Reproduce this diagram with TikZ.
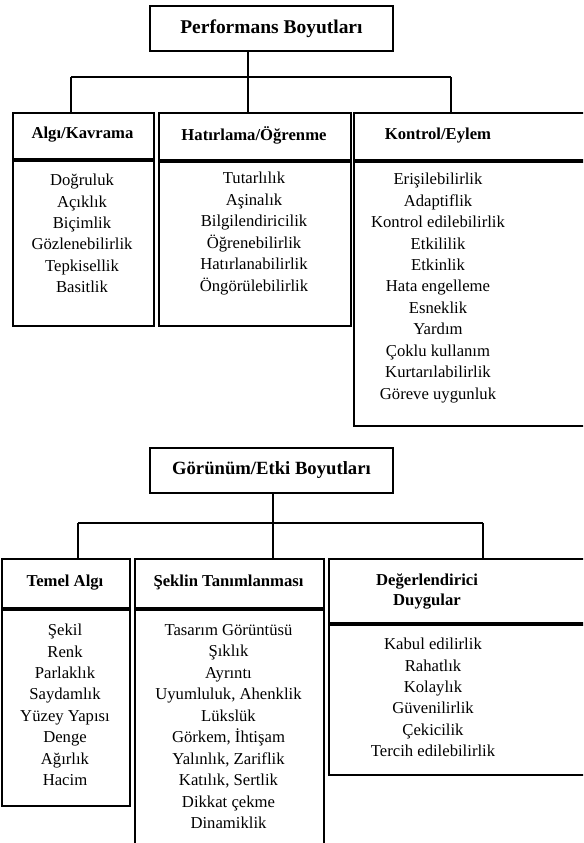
\documentclass[tikz,border=0pt]{standalone}
\usepackage{fontspec}
\setmainfont{Liberation Serif}
\usetikzlibrary{positioning}

\begin{document}
\begin{tikzpicture}[
    x=0.75pt, y=-0.75pt,
    box/.style={
      draw,
      line width=1.4pt,
      inner sep=0pt,
      anchor=north west
    },
    titlebox/.style={
      box,
      minimum width=182.25pt,
      minimum height=33.75pt,
      font=\fontsize{#1}{17}\selectfont\bfseries
    },
    head/.style={
      font=\fontsize{12.5}{15}\selectfont\bfseries,
      align=center
    },
    items/.style={
      font=\fontsize{12.5}{16.1}\selectfont,
      align=center
    },
    link/.style={
      line width=1.4pt
    }
  ]
  \clip (0,0) rectangle (583,843);

  % Performans boyutlari
  \node[titlebox=14.6] (perf) at (149,5) {Performans Boyutları};

  \node[box, minimum width=105.75pt, minimum height=34.5pt]  (algiHead) at (12,112)  {};
  \node[box, minimum width=105.75pt, minimum height=123.75pt] (algiBody) at (algiHead.south west) {};
  \node[box, minimum width=144pt, minimum height=35.25pt]    (hatHead)  at (158,112) {};
  \node[box, minimum width=144pt, minimum height=123pt]      (hatBody)  at (hatHead.south west) {};
  \node[box, minimum width=195pt, minimum height=35.25pt]    (konHead)  at (353,112) {};
  \node[box, minimum width=195pt, minimum height=198pt]      (konBody)  at (konHead.south west) {};

  \node[head] (algiName) at (82.5,135)  {Algı/Kavrama};
  \node[head] (hatName)  at (254,135.5) {Hatırlama/Öğrenme};
  \node[head] (konName)  at (438,135.5) {Kontrol/Eylem};

  \node[items] (algiList) at (82,233.5) {Doğruluk\\Açıklık\\Biçimlik\\Gözlenebilirlik\\Tepkisellik\\Basitlik};
  \node[items] (hatList)  at (254,233.5) {Tutarlılık\\Aşinalık\\Bilgilendiricilik\\Öğrenebilirlik\\Hatırlanabilirlik\\Öngörülebilirlik};
  \node[items] (konList)  at (438,288) {Erişilebilirlik\\Adaptiflik\\Kontrol edilebilirlik\\Etkililik\\Etkinlik\\Hata engelleme\\Esneklik\\Yardım\\Çoklu kullanım\\Kurtarılabilirlik\\Göreve uygunluk};

  \coordinate (perfJoin) at (248,77);
  \coordinate (perfL)    at (71,77);
  \coordinate (perfR)    at (451,77);
  \draw[link] (perf.south -| perfJoin) -- (perfJoin);
  \draw[link] (perfL) -- (perfR);
  \draw[link] (perfL) -- (perfL |- algiHead.north);
  \draw[link] (perfJoin) -- (perfJoin |- hatHead.north);
  \draw[link] (perfR) -- (perfR |- konHead.north);

  % Gorunum/Etki boyutlari
  \node[titlebox=14] (gor) at (149,447) {Görünüm/Etki Boyutları};

  \node[box, minimum width=96pt, minimum height=36.75pt]     (temHead) at (1,558)   {};
  \node[box, minimum width=96pt, minimum height=147pt]       (temBody) at (temHead.south west) {};
  \node[box, minimum width=141.75pt, minimum height=36.75pt] (sekHead) at (134,558) {};
  \node[box, minimum width=141.75pt, minimum height=176.25pt] (sekBody) at (sekHead.south west) {};
  \node[box, minimum width=213.75pt, minimum height=48pt]    (degHead) at (328,558) {};
  \node[box, minimum width=213.75pt, minimum height=112.5pt] (degBody) at (degHead.south west) {};

  \node[head] (temName) at (65,582.5)    {Temel Algı};
  \node[head] (sekName) at (228.5,582.5) {Şeklin Tanımlanması};
  \node[head] (degName) at (427,591)     {Değerlendirici\\Duygular};

  \node[items] (temList) at (65,705) {Şekil\\Renk\\Parlaklık\\Saydamlık\\Yüzey Yapısı\\Denge\\Ağırlık\\Hacim};
  \node[items] (sekList) at (228.5,726.5) {Tasarım Görüntüsü\\Şıklık\\Ayrıntı\\Uyumluluk, Ahenklik\\Lükslük\\Görkem, İhtişam\\Yalınlık, Zariflik\\Katılık, Sertlik\\Dikkat çekme\\Dinamiklik};
  \node[items] (degList) at (433,697.5) {Kabul edilirlik\\Rahatlık\\Kolaylık\\Güvenilirlik\\Çekicilik\\Tercih edilebilirlik};

  \coordinate (gorJoin) at (273,523);
  \coordinate (gorL)    at (78,523);
  \coordinate (gorR)    at (483,523);
  \draw[link] (gor.south -| gorJoin) -- (gorJoin);
  \draw[link] (gorL) -- (gorR);
  \draw[link] (gorL) -- (gorL |- temHead.north);
  \draw[link] (gorJoin) -- (gorJoin |- sekHead.north);
  \draw[link] (gorR) -- (gorR |- degHead.north);

\end{tikzpicture}
\end{document}
